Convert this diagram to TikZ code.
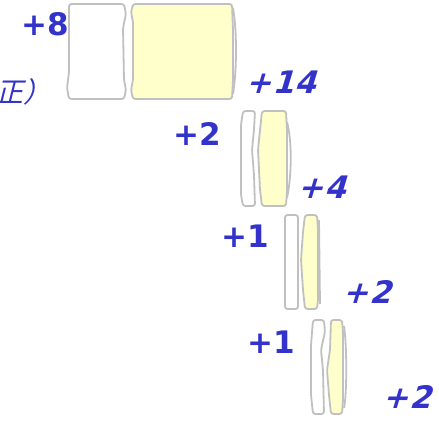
\documentclass[tikz,border=0pt]{standalone}
\usepackage{fontspec}
\newfontfamily\lblfont{DejaVu Sans Bold}
\newfontfamily\lblfonti[FakeSlant=0.3,LetterSpace=3]{DejaVu Sans Bold}
\newfontfamily\jpi[FakeSlant=0.25]{Noto Sans CJK JP}
\definecolor{txtblue}{RGB}{51,51,204}
\definecolor{lensgray}{RGB}{192,192,192}
\definecolor{lensyellow}{RGB}{255,255,204}
\tikzset{
  lensw/.style={draw=lensgray, line width=1.8pt, fill=white, rounded corners=2.5pt},
  lensy/.style={draw=lensgray, line width=1.8pt, fill=lensyellow, rounded corners=2.5pt},
  rim/.style={draw=lensgray, line width=1.8pt},
  up/.style={text=txtblue, font=\lblfont\fontsize{31}{31}\selectfont, inner sep=0pt},
  dn/.style={text=txtblue, font=\lblfonti\fontsize{31}{31}\selectfont, inner sep=0pt},
}
\begin{document}
\begin{tikzpicture}[x=1pt,y=-1pt]
\useasboundingbox (0,0) rectangle (439,422);
% ---- group 1
\path[lensw] (69,4) -- (124,4) -- (126,14) -- (123,28) -- (124,80) -- (126,90) -- (124,99)
  -- (69,99) -- (67,88) -- (69,72) -- cycle;
\path[lensy] (133,4) -- (232,4) -- (233,30) -- (233,80) -- (232,99) -- (133,99)
  -- (131,90) -- (133,80) -- (133,22) -- (131,12) -- cycle;
\draw[rim] (233,8) .. controls (237,30) and (237,70) .. (233,94);
% ---- group 2
\path[lensw] (243,111) -- (255,111) -- (254,130) -- (252,150) -- (254,175) -- (255,206)
  -- (243,206) -- (241,195) -- (241,125) -- cycle;
\path[lensy] (262,111) -- (286,111) -- (287,130) -- (287,190) -- (286,206) -- (262,206)
  -- (260,190) -- (258,150) -- (260,130) -- cycle;
\draw[rim] (287,122) .. controls (292,140) and (292,175) .. (287,198);
% ---- group 3
\path[lensw] (285,215) rectangle (298,309);
\path[lensy] (305,215) -- (317,215) -- (318,230) -- (318,300) -- (317,309) -- (305,309)
  -- (303,290) -- (301,260) -- (303,232) -- cycle;
\draw[rim] (319,220) -- (320,304);
% ---- group 4
\path[lensw] (313,320) -- (324,320) -- (325,332) -- (321,350) -- (323,370) -- (324,414)
  -- (313,414) -- (311,395) -- (311,345) -- cycle;
\path[lensy] (331,320) -- (342,320) -- (343,332) -- (343,400) -- (342,414) -- (331,414)
  -- (329,395) -- (327,370) -- (330,350) -- cycle;
\draw[rim] (344,326) .. controls (347,345) and (347,395) .. (344,408);
% ---- labels
\node[up] (t8) at (45,24) {+8};
\node[dn] (t14) at (281,82) {+14};
\node[up] (t2a) at (197,134) {+2};
\node[dn] (t4) at (322,187) {+4};
\node[up] (t1a) at (245,236) {+1};
\node[dn] (t2b) at (367,292) {+2};
\node[up] (t1b) at (271,342) {+1};
\node[dn] (t2c) at (407,397) {+2};
\node[text=txtblue, font=\jpi\fontsize{28}{28}\selectfont, inner sep=0pt, anchor=west] (tz) at (-5,92) {正）};
\end{tikzpicture}
\end{document}
